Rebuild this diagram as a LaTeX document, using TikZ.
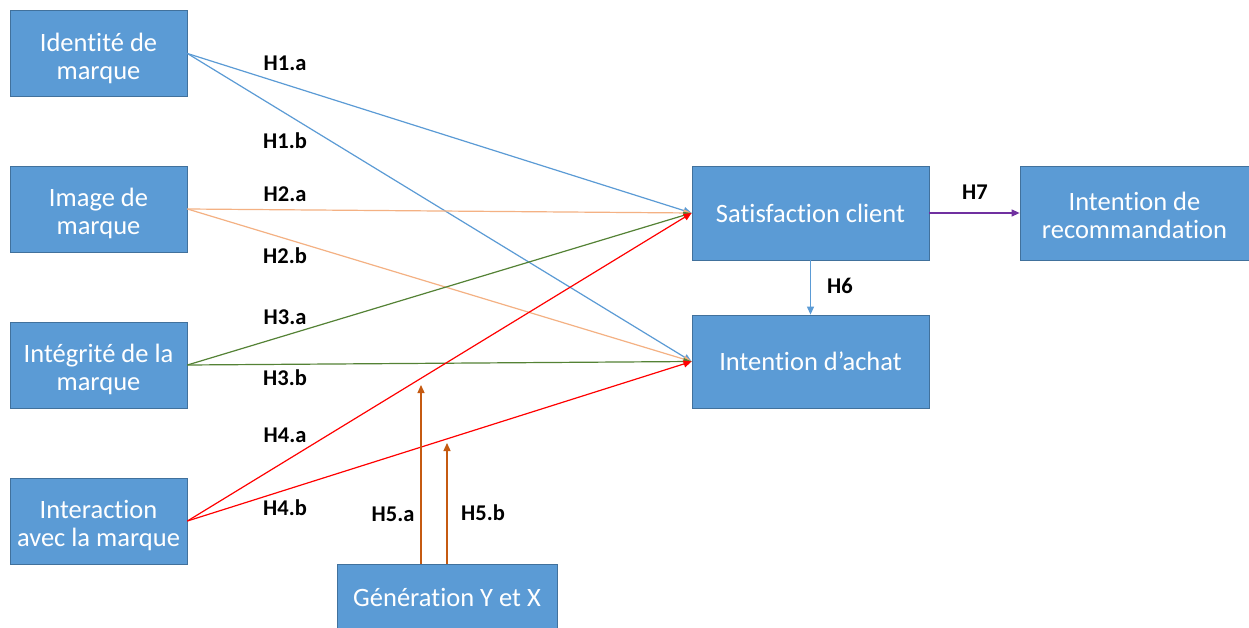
\documentclass[tikz,border=0pt]{standalone}
\usepackage{fontspec}
\setmainfont{Carlito}[Ligatures=NoCommon]
\usetikzlibrary{arrows.meta}
\definecolor{boxfill}{HTML}{5B9BD5}
\definecolor{boxborder}{HTML}{41719C}
\definecolor{lblue}{HTML}{5B9BD5}
\definecolor{lorange}{HTML}{F4B183}
\definecolor{lgreen}{HTML}{548235}
\definecolor{lred}{HTML}{FF0000}
\definecolor{lbrown}{HTML}{C55A11}
\definecolor{lpurple}{HTML}{7030A0}
\newcommand{\twolines}[2]{\raisebox{-6pt}[\height][\depth]{\begin{tabular}{@{}c@{}}#1\\#2\end{tabular}}}
\tikzset{
  box/.style={draw=boxborder, line width=0.8pt, fill=boxfill, text=white, align=center,
    inner sep=0pt, font=\fontsize{26.5}{28}\selectfont},
  smallbox/.style={box, minimum width=177pt, minimum height=86pt},
  conn/.style={line width=1.2pt, -{Triangle[length=8pt,width=7pt]}},
  lbl/.style={font=\fontsize{22.5}{24}\selectfont\bfseries, text=black, inner sep=0pt}
}
\begin{document}
\begin{tikzpicture}[x=1pt,y=-1pt]
\useasboundingbox[fill=white] (0,0) rectangle (1249,628);
% nodes
\node[smallbox] (id) at (98.5,53.5) {\twolines{Identité de}{marque}};
\node[smallbox] (img) at (98.5,209) {\twolines{Image de}{marque}};
\node[smallbox] (integ) at (98.5,365) {\twolines{Intégrité de la}{marque}};
\node[smallbox] (inter) at (98.5,521) {\twolines{Interaction}{avec la marque}};
\node[box, minimum width=220pt, minimum height=66pt] (gen) at (447,597) {Génération Y et X};
\node[box, minimum width=237pt, minimum height=94pt] (sat) at (810.5,213) {Satisfaction client};
\node[box, minimum width=237pt, minimum height=93pt] (ia) at (810.5,361.5) {Intention d’achat};
\node[box, minimum width=229pt, minimum height=94pt] (rec) at (1134.5,213) {\twolines{Intention de}{recommandation}};
% coordinates
\coordinate (h5a) at (421,385);
\coordinate (h5b) at (447,443);
% connectors
\draw[conn, lblue] (id.east) -- (sat.west);
\draw[conn, lblue] (id.east) -- (ia.west);
\draw[conn, lorange] (img.east) -- (sat.west);
\draw[conn, lorange] (img.east) -- (ia.west);
\draw[conn, lgreen] (integ.east) -- (sat.west);
\draw[conn, lgreen] (integ.east) -- (ia.west);
\draw[conn, lred] (inter.east) -- (sat.west);
\draw[conn, lred] (inter.east) -- (ia.west);
\draw[conn, lbrown] (gen.north -| h5a) -- (h5a);
\draw[conn, lbrown] (gen.north -| h5b) -- (h5b);
\draw[conn, lblue] (sat.south) -- (ia.north);
\draw[conn, lpurple] (sat.east) -- (rec.west);
% labels
\node[lbl] (l1a) at (285,63) {H1.a};
\node[lbl] (l1b) at (285,141) {H1.b};
\node[lbl] (l2a) at (285,194) {H2.a};
\node[lbl] (l2b) at (285,256) {H2.b};
\node[lbl] (l3a) at (285,317) {H3.a};
\node[lbl] (l3b) at (285,378) {H3.b};
\node[lbl] (l4a) at (285,435) {H4.a};
\node[lbl] (l4b) at (285,508) {H4.b};
\node[lbl] (l5a) at (393,514) {H5.a};
\node[lbl] (l5b) at (483,513) {H5.b};
\node[lbl] (l6) at (840,286) {H6};
\node[lbl] (l7) at (975,192) {H7};
\end{tikzpicture}
\end{document}
